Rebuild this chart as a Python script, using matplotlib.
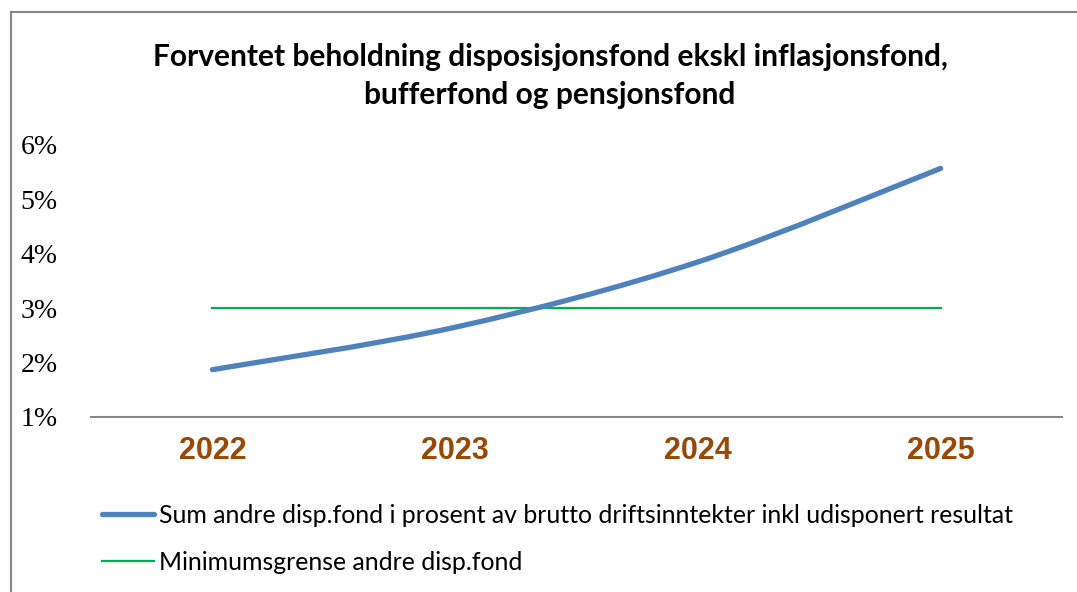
import matplotlib.pyplot as plt
from matplotlib.path import Path
from matplotlib.patches import PathPatch
from matplotlib.lines import Line2D

years = ["2022", "2023", "2024", "2025"]
sum_disp_fond = [1.87, 2.65, 3.85, 5.57]
min_grense = [3.0, 3.0, 3.0, 3.0]
y_ticks = [1, 2, 3, 4, 5, 6]

BLUE = "#4F81BD"
GREEN = "#00B050"
BROWN = "#984807"
GRAY = "#878787"


def smooth_path(xs, ys):
    """Excel-like smoothed line as cubic Bezier segments through the points."""
    pts = list(zip(xs, ys))
    verts = [pts[0]]
    codes = [Path.MOVETO]
    n = len(pts)
    for i in range(n - 1):
        p0 = pts[i - 1] if i > 0 else pts[i]
        p1 = pts[i]
        p2 = pts[i + 1]
        p3 = pts[i + 2] if i + 2 < n else pts[i + 1]
        c1 = (p1[0] + (p2[0] - p0[0]) / 6, p1[1] + (p2[1] - p0[1]) / 6)
        c2 = (p2[0] - (p3[0] - p1[0]) / 6, p2[1] - (p3[1] - p1[1]) / 6)
        verts += [c1, c2, p2]
        codes += [Path.CURVE4] * 3
    return Path(verts, codes)


fig = plt.figure(figsize=(10.77, 5.92), dpi=100)
ax = fig.add_axes([91 / 1077, 1 - 417 / 592, 971 / 1077, 272 / 592])

x = list(range(len(years)))
patch = PathPatch(smooth_path(x, sum_disp_fond), facecolor="none", edgecolor=BLUE,
                  linewidth=3.8, capstyle="round", joinstyle="round", zorder=3)
ax.add_patch(patch)
ax.plot(x, min_grense, color=GREEN, linewidth=1.6, zorder=2)

ax.set_xlim(-0.5, len(years) - 0.5)
ax.set_ylim(1, 6)
ax.set_xticks(x)
ax.set_xticklabels(years, fontfamily="Liberation Sans", fontweight="bold",
                   fontsize=22, color=BROWN)
ax.set_yticks(y_ticks)
ax.set_yticklabels([f"{v}%" for v in y_ticks], fontfamily="Liberation Serif", fontsize=20)
ax.tick_params(axis="both", length=0)
ax.tick_params(axis="x", pad=14)
ax.tick_params(axis="y", pad=24)

for side in ["top", "right", "left"]:
    ax.spines[side].set_visible(False)
ax.spines["bottom"].set_color(GRAY)
ax.spines["bottom"].set_linewidth(1.5)

fig.text(550 / 1077, 1 - 76 / 592,
         "Forventet beholdning disposisjonsfond ekskl inflasjonsfond,\nbufferfond og pensjonsfond",
         ha="center", va="center", fontsize=21.5, fontweight="bold",
         fontfamily="Lato", linespacing=1.45)

handles = [Line2D([], [], color=BLUE, linewidth=3.8, solid_capstyle="round"),
           Line2D([], [], color=GREEN, linewidth=1.6)]
labels = ["Sum andre disp.fond i prosent av brutto driftsinntekter inkl udisponert resultat",
          "Minimumsgrense andre disp.fond"]
fig.legend(handles, labels, loc="upper left", bbox_to_anchor=(92 / 1077, 1 - 494 / 592),
           frameon=False, prop={"family": "Lato", "size": 17.9}, handlelength=2.1,
           handletextpad=0.2, labelspacing=0.95, borderaxespad=0)

# outer chart border (left and top edges visible)
fig.add_artist(Line2D([11 / 1077, 11 / 1077], [0, 1 - 12 / 592], color=GRAY,
                      linewidth=1.5, transform=fig.transFigure))
fig.add_artist(Line2D([11 / 1077, 1], [1 - 12 / 592, 1 - 12 / 592], color=GRAY,
                      linewidth=1.5, transform=fig.transFigure))

fig.savefig("out.png", dpi=100)
